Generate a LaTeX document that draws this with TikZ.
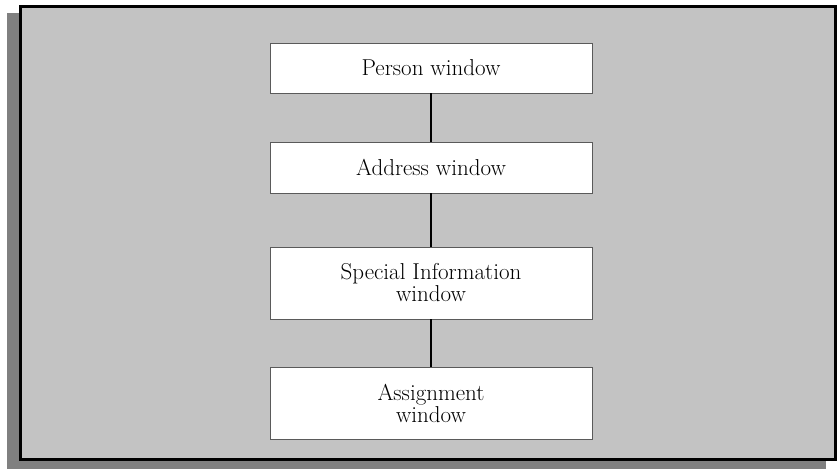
\documentclass[tikz,border=0pt]{standalone}
\usepackage{tikz}
\definecolor{panelgray}{HTML}{C3C3C3}
\definecolor{shadowgray}{HTML}{808080}
\definecolor{boxedge}{HTML}{5A5A5A}
\tikzset{
  winbox/.style={draw=boxedge, line width=0.9pt, fill=white, minimum width=322pt, inner sep=0pt, align=center, font=\fontsize{23}{22}\selectfont},
  link/.style={draw=black, line width=2pt}
}
\begin{document}
\begin{tikzpicture}[x=1pt,y=-1pt]
\useasboundingbox (0,0) rectangle (837,469);
\fill[shadowgray] (7,13) rectangle (826,469);
\draw[line width=3pt, fill=panelgray] (20.5,6.5) rectangle (835.5,459.5);
\node[winbox, minimum height=50pt] (person) at (431,68) {Person window};
\node[winbox, minimum height=51pt] (address) at (431,167.5) {Address window};
\node[winbox, minimum height=72pt] (special) at (431,283) {Special Information\\window};
\node[winbox, minimum height=72pt] (assign) at (431,403) {Assignment\\window};
\draw[link] (person.south) -- (address.north);
\draw[link] (address.south) -- (special.north);
\draw[link] (special.south) -- (assign.north);
\end{tikzpicture}
\end{document}
